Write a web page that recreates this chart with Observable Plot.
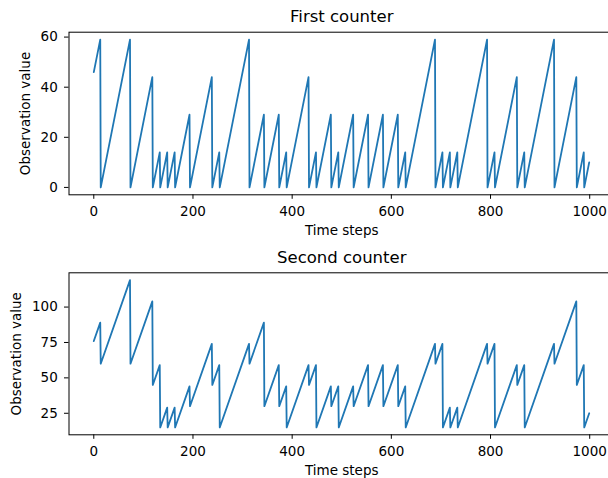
<!DOCTYPE html>
<html><head><meta charset="utf-8">
<script src="https://cdn.jsdelivr.net/npm/d3@7"></script>
<script src="https://cdn.jsdelivr.net/npm/@observablehq/plot@0.6"></script>
<style>
html,body{margin:0;padding:0;overflow:hidden;background:#fff;}
#chart{width:608px;height:478px;overflow:hidden;background:#fff;}
#chart svg{display:block;max-width:none;}
</style></head><body><div id="chart"></div>
<script>
// vertices of the piecewise-linear counter traces (time step, value)
const timeSteps = [0,13,14,73,74,118,119,133,134,148,149,163,164,193,194,238,239,253,254,313,314,343,344,373,374,388,389,433,434,448,449,478,479,493,494,523,524,553,554,583,584,613,614,628,629,688,689,703,704,718,719,733,734,793,794,808,809,853,854,868,869,928,929,973,974,988,989,999];
const firstCounter = [46,59,0,59,0,44,0,14,0,14,0,14,0,29,0,44,0,14,0,59,0,29,0,29,0,14,0,44,0,14,0,29,0,14,0,29,0,29,0,29,0,29,0,14,0,59,0,14,0,14,0,14,0,59,0,14,0,44,0,14,0,59,0,44,0,14,0,10];
const secondCounter = [76,89,60,119,60,104,45,59,15,29,15,29,15,44,30,74,45,59,15,74,60,89,30,59,30,44,15,59,45,59,15,44,30,44,15,44,30,59,30,59,30,59,30,44,15,74,60,74,15,29,15,29,15,74,60,74,15,59,45,59,15,74,60,104,45,59,15,25];
const xTicks = [0,200,400,600,800,1000];
const firstTicks = [0,20,40,60];
const secondTicks = [25,50,75,100];
const titles = ["First counter","Second counter"];
const xLabel = "Time steps";
const yLabel = "Observation value";

const FONT = "DejaVu Sans";
function panel({values, yDomain, yTicks, title, height, marginTop, marginBottom, yLabelDx}) {
  const data = timeSteps.map((t, i) => ({t, v: values[i]}));
  const svg = Plot.plot({
    width: 614, height, marginLeft: 68.5, marginRight: 0, marginTop, marginBottom,
    style: {fontFamily: FONT, fontSize: "13.5px", color: "#000", background: "#fff"},
    x: {domain: [-50, 1050]},
    y: {domain: yDomain},
    marks: [
      Plot.axisX({ticks: xTicks, tickFormat: d => String(d), tickSize: 4.5, tickPadding: 7, label: null, fontSize: 13.5, stroke: "#000", fill: "#000"}),
      Plot.axisY({ticks: yTicks, tickFormat: d => String(d), tickSize: 4.5, tickPadding: 6.7, label: null, fontSize: 13.5, stroke: "#000", fill: "#000"}),
      Plot.line(data, {x: "t", y: "v", stroke: "#1f77b4", strokeWidth: 1.8}),
      Plot.frame({stroke: "#000", strokeWidth: 1}),
      Plot.text([title], {frameAnchor: "top", dy: -15, text: d => d, fontSize: 16.5, lineAnchor: "middle", textAnchor: "middle", fill: "#000"}),
      Plot.text([xLabel], {frameAnchor: "bottom", dy: 36, text: d => d, fontSize: 13.5, lineAnchor: "middle", textAnchor: "middle", fill: "#000"}),
      Plot.text([yLabel], {frameAnchor: "left", dx: yLabelDx, rotate: -90, text: d => d, fontSize: 13.5, lineAnchor: "middle", textAnchor: "middle", fill: "#000"})
    ]
  });
  svg.style.maxWidth = "none";
  return svg;
}
const chart = document.getElementById("chart");
chart.appendChild(panel({values: firstCounter, yDomain: [-2.95, 61.95], yTicks: firstTicks, title: titles[0], height: 240, marginTop: 31.7, marginBottom: 45.7, yLabelDx: -43.5}));
chart.appendChild(panel({values: secondCounter, yDomain: [9.8, 124.2], yTicks: secondTicks, title: titles[1], height: 238, marginTop: 32.3, marginBottom: 43.7, yLabelDx: -52.5}));
</script></body></html>
